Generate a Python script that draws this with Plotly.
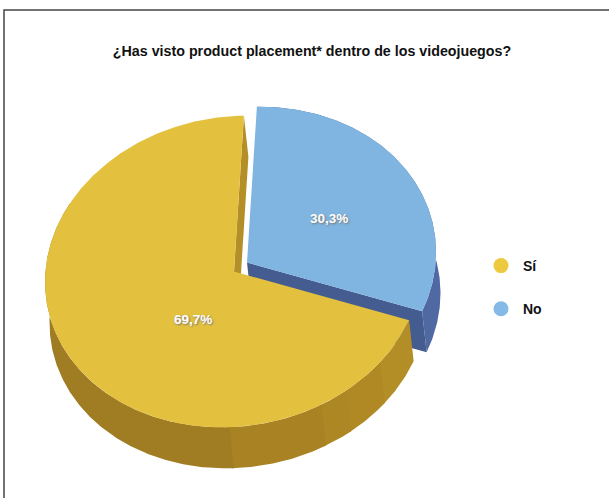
import numpy as np
import plotly.graph_objects as go

title = "¿Has visto product placement* dentro de los videojuegos?"
categories = ["Sí", "No"]
values = [69.7, 30.3]
top_colors = ["#e3c13e", "#7fb5e0"]
legend_colors = ["#edc93f", "#85bae6"]

START = 3.0        # clockwise degrees from 12 o'clock where "No" begins
CX, CY = 234.0, 271.5
A, B, SHEAR = 189.0, 155.5, 0.055
WALL = (4.5, 41.0)
PULL = (13.0, -9.0)
BAND_EDGES = [130, 144, 153, 182, 300]
BAND_COLORS = ["#b38d26", "#b08925", "#ad8724", "#a88223", "#a07c23"]

span_no = values[1] / sum(values) * 360
span_si = values[0] / sum(values) * 360
no_a0, no_a1 = START, START + span_no
si_a0, si_a1 = no_a1, no_a1 + span_si


def proj(theta, r=1.0, off=(0, 0)):
    t = np.radians(theta)
    dx = A * r * np.sin(t)
    y = CY - B * r * np.cos(t) - SHEAR * dx
    return CX + dx + off[0], y + off[1]


def arc(a0, a1, off=(0, 0)):
    n = max(int(abs(a1 - a0)), 2) * 2
    return proj(np.linspace(a0, a1, n), off=off)


def add(off_x, off_y, color):
    fig.add_trace(go.Scatter(x=off_x, y=off_y, mode="lines", fill="toself", fillcolor=color,
                             line=dict(color=color, width=0), hoverinfo="skip", showlegend=False))


def wedge(a0, a1, off=(0, 0)):
    x, y = arc(a0, a1, off)
    ax, ay = proj(0, 0, off)
    return np.r_[ax, x, ax], np.r_[ay, y, ay]


def wall(a0, a1, off=(0, 0)):
    x0, y0 = arc(a0, a1, off)
    o2 = (off[0] + WALL[0], off[1] + WALL[1])
    x1, y1 = arc(a0, a1, o2)
    return np.r_[x0, x1[::-1], x0[0]], np.r_[y0, y1[::-1], y0[0]]


def radial(theta, off=(0, 0)):
    o2 = (off[0] + WALL[0], off[1] + WALL[1])
    p = [proj(0, 0, off), proj(theta, 1, off), proj(theta, 1, o2), proj(0, 0, o2), proj(0, 0, off)]
    return [q[0] for q in p], [q[1] for q in p]


fig = go.Figure()

# "No" slice, pulled out
add(*wall(no_a0, no_a1, PULL), "#5069a3")
add(*radial(no_a1, PULL), "#445c90")
add(*wedge(no_a0, no_a1, PULL), top_colors[1])

# "Sí" slice: later bands overlap the earlier one so no seam shows
add(*radial(si_a1), "#b48e26")
prev = si_a0
for edge, col in zip(BAND_EDGES, BAND_COLORS):
    add(*wall(prev - 0.6 if prev > si_a0 else prev, edge), col)
    prev = edge
add(*wedge(si_a0, si_a1), top_colors[0])

# legend entries
for name, col in zip(categories, legend_colors):
    fig.add_trace(go.Scatter(x=[None], y=[None], mode="markers", name=name, legendgroup=name,
                             marker=dict(color=col, size=15)))

labels = [f"{v:.1f}%".replace(".", ",") for v in values]
label_pos = [(193, 319), (329, 218)]
for txt, (lx, ly) in zip(labels, label_pos):
    fig.add_annotation(x=lx, y=ly, text=f"<b>{txt}</b>", showarrow=False,
                       font=dict(family="Liberation Sans", size=13.5, color="white",
                                 shadow="1px 1px 2px #777"))

fig.update_layout(
    width=609, height=498, margin=dict(l=0, r=0, t=0, b=0),
    paper_bgcolor="white", plot_bgcolor="white",
    title=dict(text=f"<b>{title}</b>", x=312 / 609, xanchor="center", y=1 - 51 / 498, yanchor="middle",
               font=dict(family="Liberation Sans", size=14.25, color="#111")),
    xaxis=dict(range=[0, 609], visible=False, fixedrange=True),
    yaxis=dict(range=[498, 0], visible=False, fixedrange=True),
    legend=dict(x=479 / 609, y=1 - 250 / 498, xanchor="left", yanchor="top", tracegroupgap=22,
                itemsizing="trace", itemclick=False, itemwidth=34, bgcolor="rgba(0,0,0,0)",
                font=dict(family="Liberation Sans", size=14, color="#111", weight="bold")),
    shapes=[dict(type="rect", xref="x", yref="y", x0=4, y0=10, x1=640, y1=540,
                 line=dict(color="#444", width=1.5), layer="below")],
)
fig.write_html("out.html", config={"displayModeBar": False},
               post_script="document.body.style.margin='0';document.documentElement.style.overflow='hidden';")
